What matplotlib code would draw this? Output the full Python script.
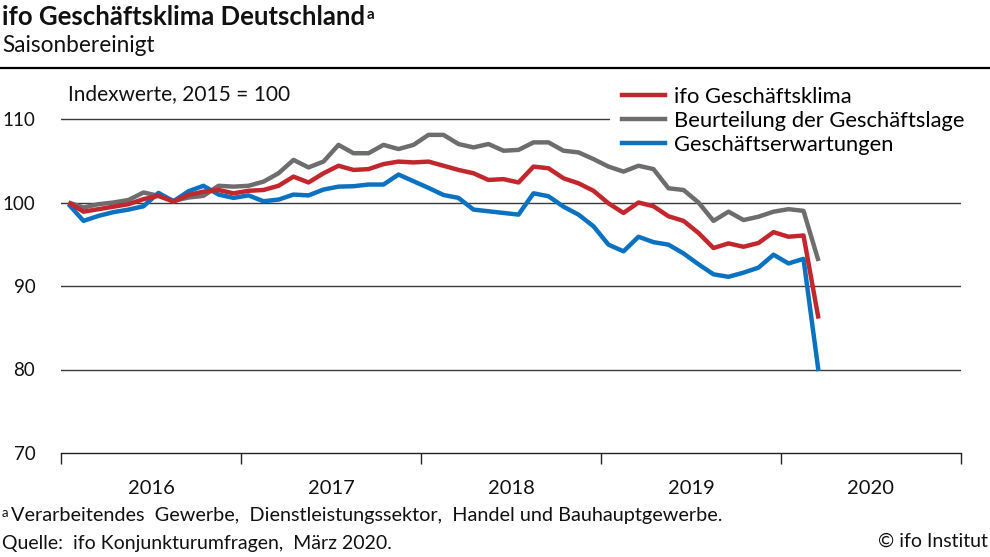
import matplotlib
matplotlib.use('Agg')
import matplotlib.pyplot as plt
from matplotlib.lines import Line2D

# monthly values Jan 2016 .. Mar 2020 (2015 = 100)
klima = [100.0, 98.9, 99.2, 99.5, 99.8, 100.4, 100.8, 100.1, 100.9, 101.3, 101.5, 101.1,
         101.4, 101.5, 102.0, 103.1, 102.4, 103.5, 104.4, 103.9, 104.0, 104.6, 104.9, 104.8,
         104.9, 104.4, 103.9, 103.5, 102.7, 102.8, 102.4, 104.3, 104.1, 102.9, 102.3, 101.4,
         99.9, 98.75, 100.0, 99.55, 98.35, 97.8, 96.35, 94.55, 95.1, 94.7, 95.15, 96.45,
         95.9, 96.05, 86.1]
lage = [100.0, 99.4, 99.8, 100.0, 100.3, 101.2, 100.8, 100.2, 100.6, 100.8, 102.0, 101.9,
        102.0, 102.5, 103.5, 105.1, 104.2, 104.9, 106.9, 105.9, 105.9, 106.9, 106.4, 106.9,
        108.1, 108.1, 107.0, 106.6, 107.0, 106.2, 106.3, 107.2, 107.2, 106.2, 106.0, 105.2,
        104.3, 103.7, 104.4, 104.0, 101.7, 101.5, 100.0, 97.8, 98.9, 97.9, 98.3, 98.9,
        99.2, 99.0, 93.0]
erwartungen = [99.8, 97.8, 98.4, 98.85, 99.15, 99.55, 101.15, 100.15, 101.35, 102.0, 100.95, 100.55,
               100.85, 100.15, 100.35, 100.95, 100.85, 101.55, 101.9, 101.95, 102.15, 102.15, 103.35, 102.55,
               101.75, 100.9, 100.55, 99.15, 98.95, 98.75, 98.55, 101.1, 100.75, 99.5, 98.55, 97.15,
               94.95, 94.15, 95.9, 95.25, 94.95, 93.9, 92.6, 91.4, 91.1, 91.6, 92.2, 93.75,
               92.7, 93.25, 79.8]
years = ['2016', '2017', '2018', '2019', '2020']
yticks = [70, 80, 90, 100, 110]

RED = '#c1272d'
GREY = '#6d6d6d'
BLUE = '#0a72c0'
TXT = '#111111'

plt.rcParams['font.family'] = ['Lato', 'DejaVu Sans']

W, H = 990, 557
fig = plt.figure(figsize=(W / 100, H / 100), dpi=100)
ax = fig.add_axes([61 / W, 1 - 453 / H, 900 / W, 375.75 / H])

x = [i + 0.5 for i in range(len(klima))]
ax.plot(x, lage, color=GREY, lw=3.2, solid_capstyle='butt', zorder=3)
ax.plot(x, erwartungen, color=BLUE, lw=3.2, solid_capstyle='butt', zorder=4)
ax.plot(x, klima, color=RED, lw=3.2, solid_capstyle='butt', zorder=5)

ax.set_xlim(0, 60)
ax.set_ylim(70, 115)
for v in yticks[1:]:
    ax.axhline(v, color='#3a3a3a', lw=1.0, zorder=1)

for s in ['top', 'right', 'left']:
    ax.spines[s].set_visible(False)
ax.spines['bottom'].set_color('#222222')
ax.spines['bottom'].set_linewidth(1.0)

ax.set_yticks(yticks)
ax.set_yticklabels([str(v) for v in yticks], fontsize=13.5, color=TXT)
ax.tick_params(axis='y', length=0, pad=18.5)
ax.set_xticks(range(0, 61, 12))
ax.set_xticklabels([])
ax.tick_params(axis='x', direction='out', length=8, width=1.0, color='#222222')
for k, yr in enumerate(years):
    ax.text(k * 12 + 6, 70 - 35 / 8.35, yr, ha='center', va='center', fontsize=14.5, color=TXT)

ax.text(0.45, 110 + 25 / 8.35, 'Indexwerte, 2015 = 100', ha='left', va='center', fontsize=15, color=TXT)

handles = [Line2D([], [], color=RED, lw=3.2),
           Line2D([], [], color=GREY, lw=3.2),
           Line2D([], [], color=BLUE, lw=3.2)]
labels = ['ifo Geschäftsklima', 'Beurteilung der Geschäftslage', 'Geschäftserwartungen']
leg = ax.legend(handles, labels, loc='upper left', bbox_to_anchor=((610 - 61) / 900, (453 - 75) / 375.75),
                frameon=True, fontsize=15.8, handlelength=1.95, handletextpad=0.4,
                labelspacing=0.17, borderpad=0.55, borderaxespad=0)
leg.get_frame().set_facecolor('white')
leg.get_frame().set_edgecolor('none')
leg.get_frame().set_alpha(1)
leg.get_frame().set_boxstyle('square', pad=0)
leg.set_zorder(2)  # above grid lines, below data lines

# header
title = fig.text(0.002, 1 - 17 / H, 'ifo Geschäftsklima Deutschland', fontsize=18.5,
                 fontweight='bold', ha='left', va='center', color=TXT)
fig.text(0.002, 1 - 46 / H, 'Saisonbereinigt', fontsize=16.3, ha='left', va='center', color=TXT)
fig.add_artist(Line2D([0, 1], [1 - 68 / H, 1 - 68 / H], color='black', lw=1.6))

# footer
fig.text(0.002, 1 - 513 / H, 'a', fontsize=9.5, ha='left', va='center', color=TXT)
fig.text(0.011, 1 - 516 / H, 'Verarbeitendes  Gewerbe,  Dienstleistungssektor,  Handel und Bauhauptgewerbe.',
         fontsize=14.3, ha='left', va='center', color=TXT)
fig.text(0.002, 1 - 543 / H, 'Quelle:  ifo Konjunkturumfragen,  März 2020.', fontsize=14,
         ha='left', va='center', color=TXT)
fig.text(0.998, 1 - 541 / H, '© ifo Institut', fontsize=14, ha='right', va='center', color=TXT)

fig.canvas.draw()
bb = title.get_window_extent()
fig.text((bb.x1 + 2) / W, (bb.y1 - 3) / H, 'a', fontsize=11, fontweight='bold',
         ha='left', va='top', color=TXT)

fig.savefig('out.png', dpi=100)
